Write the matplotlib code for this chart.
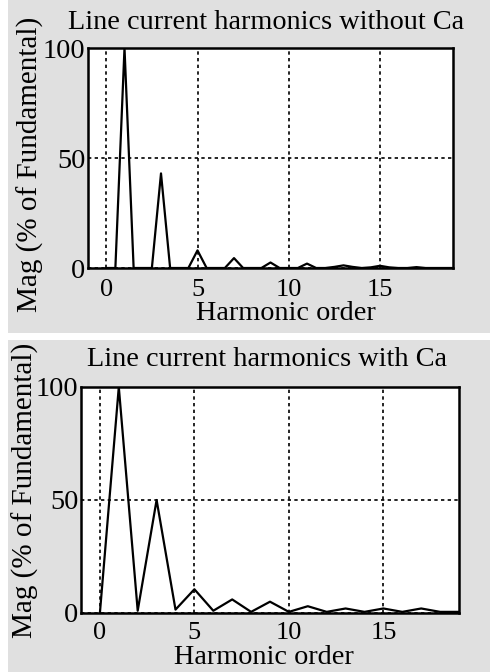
import numpy as np
import matplotlib
matplotlib.use("Agg")
import matplotlib.pyplot as plt
from matplotlib.patches import Rectangle

# harmonic spectrum without Ca (half-order resolution)
order_a = [0, 0.5, 1, 1.5, 2, 2.5, 3, 3.5, 4, 4.5, 5, 5.5, 6, 6.5, 7, 7.5, 8, 8.5, 9, 9.5,
           10, 10.5, 11, 11.5, 12, 12.5, 13, 13.5, 14, 14.5, 15, 15.5, 16, 16.5, 17, 17.5,
           18, 18.5, 19]
mag_a = [0, 0, 100, 0, 0, 0, 43, 0, 0, 0, 8, 0, 0, 0, 4.5, 0, 0, 0, 2.5, 0,
         0, 0, 2, 0, 0, 0.5, 1.2, 0.5, 0, 0.3, 1, 0.3, 0, 0, 0.4, 0,
         0, 0, 0]

# harmonic spectrum with Ca (integer orders)
order_b = list(range(20))
mag_b = [0, 100, 1, 50, 1.5, 10.5, 1, 6, 0.5, 5, 0.5, 3, 0.5, 2, 0.5, 2, 0.5, 2, 0.5, 0.5]

titles = ["Line current harmonics without Ca", "Line current harmonics with Ca"]
xticks = [0, 5, 10, 15]
yticks = [0, 50, 100]

W, H = 490, 672
FONT = "Liberation Serif"
FS = 20.3
BG = "#e0e0e0"

fig = plt.figure(figsize=(W / 100, H / 100), dpi=100)
fig.patch.set_facecolor("white")

# gray panel backgrounds (pixel boxes: x0, y0, x1, y1)
for x0, y0, x1, y1 in [(8, 0, 490, 333), (8, 340, 490, 672)]:
    fig.patches.append(Rectangle((x0 / W, 1 - y1 / H), (x1 - x0) / W, (y1 - y0) / H,
                                 transform=fig.transFigure, facecolor=BG, lw=0,
                                 zorder=-5))

# axes boxes in pixels: left, top, right, bottom
boxes = [(88, 48, 453, 268), (81, 387, 459, 613)]
title_pos = [(266.5, 29), (267, 366)]
xlab_pos = [(286, 320), (263.5, 664)]
ylab_pos = [(30, 164), (25, 490)]
xpads = [8, 6.5]
series = [(order_a, mag_a), (order_b, mag_b)]

for i, (l, t, r, b) in enumerate(boxes):
    ax = fig.add_axes([l / W, 1 - b / H, (r - l) / W, (b - t) / H])
    ax.set_zorder(2)
    ax.set_facecolor("white")
    x, y = series[i]
    ax.plot(x, y, color="black", lw=1.6, zorder=3)
    ax.set_xlim(-1, 19)
    ax.set_ylim(0, 100)
    ax.set_xticks(xticks)
    ax.set_yticks(yticks)
    ax.tick_params(length=0)
    ax.tick_params(axis="y", pad=2, labelsize=FS)
    ax.tick_params(axis="x", pad=xpads[i], labelsize=19)
    for lab in ax.get_xticklabels() + ax.get_yticklabels():
        lab.set_fontfamily(FONT)
    ax.grid(True, color="black", lw=1.2, linestyle=(0, (2, 2)))
    for s in ax.spines.values():
        s.set_linewidth(1.8)
        s.set_color("black")

    tx, ty = title_pos[i]
    fig.text(tx / W, 1 - ty / H, titles[i], ha="center", va="baseline",
             fontsize=FS, family=FONT, zorder=3)
    lx, ly = xlab_pos[i]
    fig.text(lx / W, 1 - ly / H, "Harmonic order", ha="center", va="baseline",
             fontsize=FS, family=FONT, zorder=3)
    yx, yy = ylab_pos[i]
    fig.text(yx / W, 1 - yy / H, "Mag (% of Fundamental)", ha="center", va="center",
             rotation=90, fontsize=21, family=FONT, zorder=3)

fig.savefig("out.png", dpi=100)
